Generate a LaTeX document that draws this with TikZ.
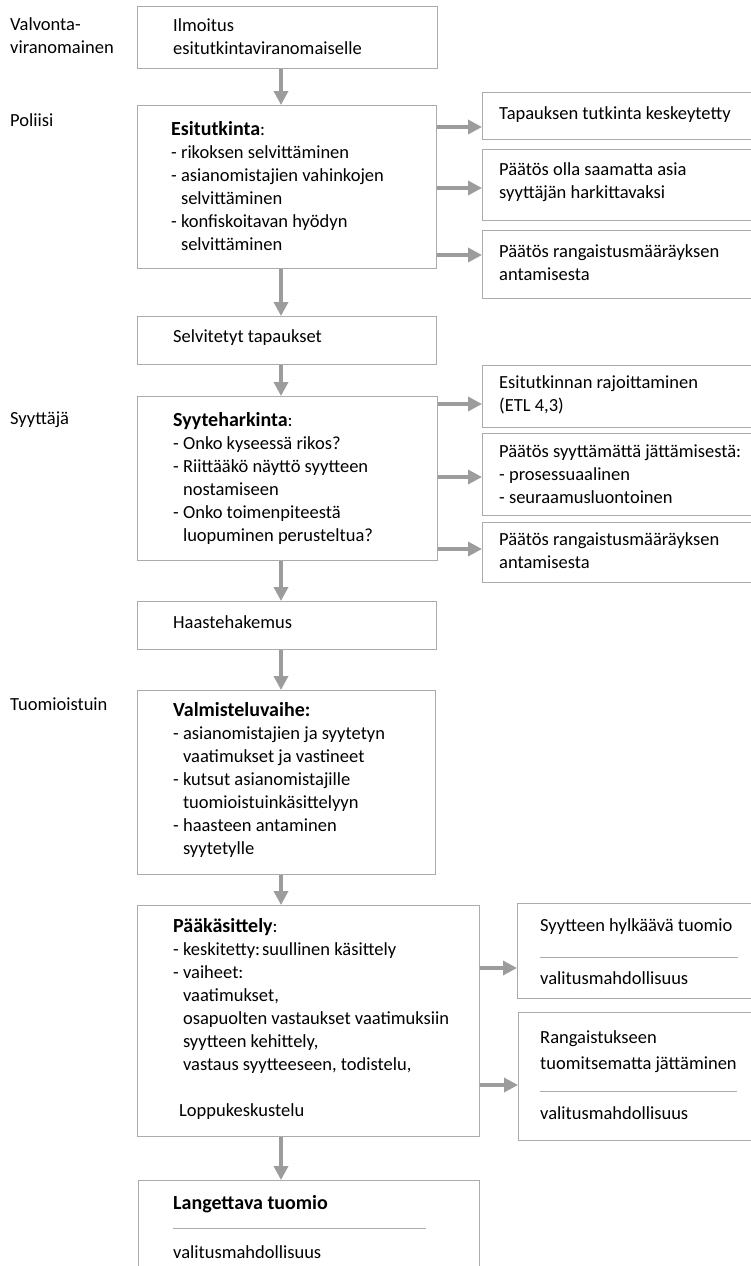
\documentclass[tikz,border=0pt]{standalone}
\usepackage{fontspec}
\setmainfont{Carlito}
\usetikzlibrary{arrows.meta}
\definecolor{boxgray}{HTML}{ABABAB}
\definecolor{arrgray}{HTML}{9C9C9C}
\newcommand{\hd}[1]{{\fontsize{20}{23}\selectfont\textbf{#1}}}
\begin{document}
\frenchspacing
\begin{tikzpicture}[x=1pt,y=-1pt,
  box/.style={draw=boxgray, line width=0.9pt, fill=white, anchor=north west, inner sep=0pt},
  txt/.style={anchor=west, align=left, inner sep=0pt, font=\fontsize{18.5}{23}\selectfont},
  arr/.style={draw=arrgray, line width=3.4pt, -{Triangle[width=14pt,length=14pt]}},
  sep/.style={draw=boxgray, line width=0.8pt}]
\useasboundingbox (0,0) rectangle (751,1266);
\clip (0,0) rectangle (751,1266);
\fill[white] (0,0) rectangle (751,1266);
% helper coordinates
\coordinate (ax) at (281,0);
% main column boxes
\node[box, minimum width=300pt, minimum height=62pt] (ilm) at (137,6) {};
\node[box, minimum width=299pt, minimum height=163pt] (esi) at (137,105) {};
\node[box, minimum width=299pt, minimum height=48pt] (sel) at (137,316) {};
\node[box, minimum width=300pt, minimum height=164pt] (syy) at (137,396) {};
\node[box, minimum width=299pt, minimum height=48pt] (haa) at (137,601) {};
\node[box, minimum width=298pt, minimum height=184pt] (val) at (137,690) {};
\node[box, minimum width=342pt, minimum height=231pt] (paa) at (137,905) {};
\node[box, minimum width=341pt, minimum height=110pt] (lan) at (138,1180) {};
% right boxes
\node[box, minimum width=290pt, minimum height=47pt] (r1) at (482,92) {};
\node[box, minimum width=290pt, minimum height=71pt] (r2) at (482,149) {};
\node[box, minimum width=290pt, minimum height=68pt] (r3) at (482,230) {};
\node[box, minimum width=290pt, minimum height=62pt] (r4) at (482,365) {};
\node[box, minimum width=290pt, minimum height=82pt] (r5) at (482,433) {};
\node[box, minimum width=290pt, minimum height=60pt] (r6) at (482,522) {};
\node[box, minimum width=260pt, minimum height=95pt] (r7) at (517,903) {};
\node[box, minimum width=260pt, minimum height=128pt] (r8) at (518,1012) {};
% left labels
\node[txt] (lv) at (10,36) {Valvonta-\\viranomainen};
\node[txt] (lp) at (10,120) {Poliisi};
\node[txt] (ls) at (10,420) {Syyttäjä};
\node[txt] (lt) at (10,704) {Tuomioistuin};
% main texts
\node[txt] (tilm) at (173,37) {Ilmoitus\\esitutkintaviranomaiselle};
\node[txt] (tesi) at (171,186) {\hd{Esitutkinta}:\\- rikoksen selvittäminen\\- asianomistajien vahinkojen\\\hphantom{- }selvittäminen\\- konfiskoitavan hyödyn\\\hphantom{- }selvittäminen};
\node[txt] (tsel) at (173,338) {Selvitetyt tapaukset};
\node[txt] (tsyy) at (173,478) {\hd{Syyteharkinta}:\\- Onko kyseessä rikos?\\- Riittääkö näyttö syytteen\\\hphantom{- }nostamiseen\\- Onko toimenpiteestä\\\hphantom{- }luopuminen perusteltua?};
\node[txt] (thaa) at (173,622) {Haastehakemus};
\node[txt] (tval) at (173,780) {\hd{Valmisteluvaihe:}\\- asianomistajien ja syytetyn\\\hphantom{- }vaatimukset ja vastineet\\- kutsut asianomistajille\\\hphantom{- }tuomioistuinkäsittelyyn\\- haasteen antaminen\\\hphantom{- }syytetylle};
\node[txt] (tpaa) at (173,1019) {\hd{Pääkäsittely}:\\- keskitetty:\hspace{2pt}suullinen käsittely\\- vaiheet:\\\hphantom{- }vaatimukset,\\\hphantom{- }osapuolten vastaukset vaatimuksiin\\\hphantom{- }syytteen kehittely,\\\hphantom{- }vastaus syytteeseen, todistelu,\\[23pt]\hspace{6pt}Loppukeskustelu};
\node[txt] (tlan1) at (173,1204) {\hd{Langettava tuomio}};
\node[txt] (tlan2) at (173,1252) {valitusmahdollisuus};
\draw[sep] (173,1228) -- (426,1228);
% right texts
\node[txt] (tr1) at (499,115) {Tapauksen tutkinta keskeytetty};
\node[txt] (tr2) at (499,182) {Päätös olla saamatta asia\\syyttäjän harkittavaksi};
\node[txt] (tr3) at (499,263) {Päätös rangaistusmääräyksen\\antamisesta};
\node[txt] (tr4) at (499,395) {Esitutkinnan rajoittaminen\\(ETL 4,3)};
\node[txt] (tr5) at (499,474) {Päätös syyttämättä jättämisestä:\\- prosessuaalinen\\- seuraamusluontoinen};
\node[txt] (tr6) at (499,551) {Päätös rangaistusmääräyksen\\antamisesta};
\node[txt] (tr7a) at (540,927) {Syytteen hylkäävä tuomio};
\node[txt] (tr7b) at (540,978) {valitusmahdollisuus};
\draw[sep] (540,957) -- (738,957);
\node[txt, font=\fontsize{18.5}{26}\selectfont] (tr8a) at (540,1052) {Rangaistukseen\\tuomitsematta jättäminen};
\node[txt] (tr8b) at (540,1113) {valitusmahdollisuus};
\draw[sep] (540,1091) -- (737,1091);
% vertical arrows
\draw[arr] (ilm.south -| ax) -- (esi.north -| ax);
\draw[arr] (esi.south -| ax) -- (sel.north -| ax);
\draw[arr] (sel.south -| ax) -- (syy.north -| ax);
\draw[arr] (syy.south -| ax) -- (haa.north -| ax);
\draw[arr] (haa.south -| ax) -- (val.north -| ax);
\draw[arr] (val.south -| ax) -- (paa.north -| ax);
\draw[arr] (paa.south -| ax) -- (lan.north -| ax);
% horizontal arrow levels
\coordinate (h1) at (0,127);
\coordinate (h2) at (0,188);
\coordinate (h3) at (0,255);
\coordinate (h4) at (0,404);
\coordinate (h5) at (0,477);
\coordinate (h6) at (0,549);
\coordinate (h7) at (0,968);
\coordinate (h8) at (0,1085);
\draw[arr] (esi.east |- h1) -- (r1.west |- h1);
\draw[arr] (esi.east |- h2) -- (r2.west |- h2);
\draw[arr] (esi.east |- h3) -- (r3.west |- h3);
\draw[arr] (syy.east |- h4) -- (r4.west |- h4);
\draw[arr] (syy.east |- h5) -- (r5.west |- h5);
\draw[arr] (syy.east |- h6) -- (r6.west |- h6);
\draw[arr] (paa.east |- h7) -- (r7.west |- h7);
\draw[arr] (paa.east |- h8) -- (r8.west |- h8);
\end{tikzpicture}
\end{document}
